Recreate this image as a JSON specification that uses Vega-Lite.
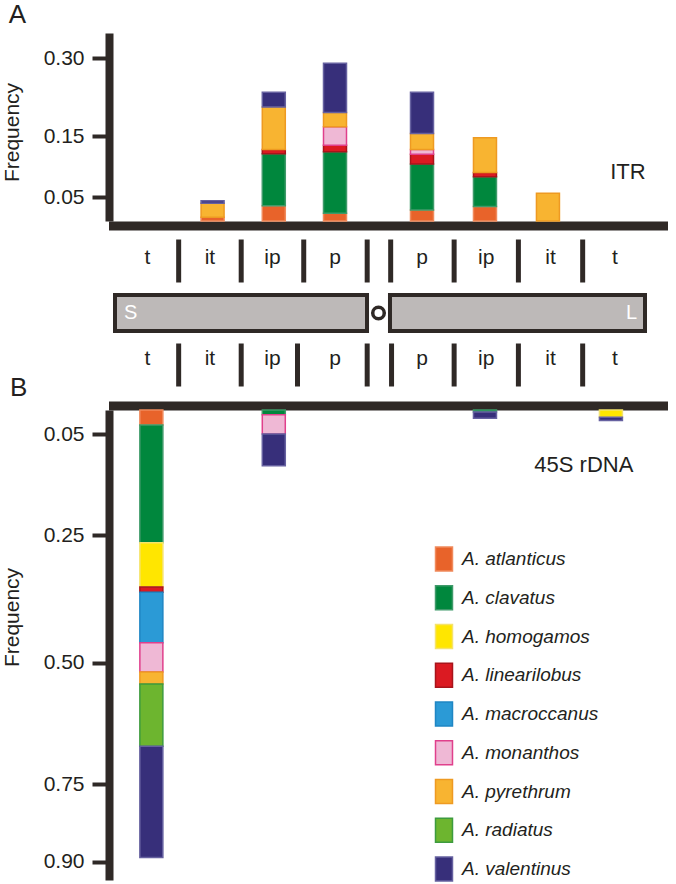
{
  "$schema": "https://vega.github.io/schema/vega-lite/v6.json",
  "width": 676,
  "height": 884,
  "padding": 0,
  "autosize": {"type": "none"},
  "config": {"view": {"stroke": null}, "font": "Liberation Sans"},
  "datasets": {
    "itr": [
      {"locus": 2, "species": "A. atlanticus", "frequency": 0.008},
      {"locus": 2, "species": "A. pyrethrum", "frequency": 0.029},
      {"locus": 2, "species": "A. valentinus", "frequency": 0.005},
      {"locus": 3, "species": "A. atlanticus", "frequency": 0.032},
      {"locus": 3, "species": "A. clavatus", "frequency": 0.089},
      {"locus": 3, "species": "A. linearilobus", "frequency": 0.007},
      {"locus": 3, "species": "A. pyrethrum", "frequency": 0.078},
      {"locus": 3, "species": "A. valentinus", "frequency": 0.028},
      {"locus": 4, "species": "A. atlanticus", "frequency": 0.016},
      {"locus": 4, "species": "A. clavatus", "frequency": 0.108},
      {"locus": 4, "species": "A. linearilobus", "frequency": 0.011},
      {"locus": 4, "species": "A. monanthos", "frequency": 0.033},
      {"locus": 4, "species": "A. pyrethrum", "frequency": 0.027},
      {"locus": 4, "species": "A. valentinus", "frequency": 0.095},
      {"locus": 5, "species": "A. atlanticus", "frequency": 0.023},
      {"locus": 5, "species": "A. clavatus", "frequency": 0.081},
      {"locus": 5, "species": "A. linearilobus", "frequency": 0.016},
      {"locus": 5, "species": "A. monanthos", "frequency": 0.008},
      {"locus": 5, "species": "A. pyrethrum", "frequency": 0.027},
      {"locus": 5, "species": "A. valentinus", "frequency": 0.079},
      {"locus": 6, "species": "A. atlanticus", "frequency": 0.030},
      {"locus": 6, "species": "A. clavatus", "frequency": 0.053},
      {"locus": 6, "species": "A. linearilobus", "frequency": 0.007},
      {"locus": 6, "species": "A. pyrethrum", "frequency": 0.057},
      {"locus": 7, "species": "A. pyrethrum", "frequency": 0.056}
    ],
    "rdna": [
      {"locus": 1, "species": "A. atlanticus", "frequency": 0.031},
      {"locus": 1, "species": "A. clavatus", "frequency": 0.234},
      {"locus": 1, "species": "A. homogamos", "frequency": 0.087},
      {"locus": 1, "species": "A. linearilobus", "frequency": 0.010},
      {"locus": 1, "species": "A. macroccanus", "frequency": 0.099},
      {"locus": 1, "species": "A. monanthos", "frequency": 0.058},
      {"locus": 1, "species": "A. pyrethrum", "frequency": 0.025},
      {"locus": 1, "species": "A. radiatus", "frequency": 0.128},
      {"locus": 1, "species": "A. valentinus", "frequency": 0.220},
      {"locus": 3, "species": "A. clavatus", "frequency": 0.010},
      {"locus": 3, "species": "A. monanthos", "frequency": 0.040},
      {"locus": 3, "species": "A. valentinus", "frequency": 0.063},
      {"locus": 6, "species": "A. clavatus", "frequency": 0.004},
      {"locus": 6, "species": "A. valentinus", "frequency": 0.013},
      {"locus": 8, "species": "A. homogamos", "frequency": 0.015},
      {"locus": 8, "species": "A. valentinus", "frequency": 0.007}
    ],
    "loci": [
      {"locus": 1, "region": "t"}, {"locus": 2, "region": "it"},
      {"locus": 3, "region": "ip"}, {"locus": 4, "region": "p"},
      {"locus": 5, "region": "p"}, {"locus": 6, "region": "ip"},
      {"locus": 7, "region": "it"}, {"locus": 8, "region": "t"}
    ],
    "separators": [
      {"row": "upper", "boundary": 1.5}, {"row": "upper", "boundary": 2.5},
      {"row": "upper", "boundary": 3.5}, {"row": "upper", "boundary": 4.37},
      {"row": "upper", "boundary": 4.64}, {"row": "upper", "boundary": 5.5},
      {"row": "upper", "boundary": 6.5}, {"row": "upper", "boundary": 7.5},
      {"row": "lower", "boundary": 1.5}, {"row": "lower", "boundary": 2.5},
      {"row": "lower", "boundary": 3.4}, {"row": "lower", "boundary": 4.37},
      {"row": "lower", "boundary": 4.65}, {"row": "lower", "boundary": 5.5},
      {"row": "lower", "boundary": 6.5}, {"row": "lower", "boundary": 7.5}
    ],
    "arms": [
      {"arm": "S", "start": 0.482, "end": 4.368},
      {"arm": "L", "start": 4.632, "end": 8.47}
    ]
  },
  "layer": [
    {
      "layer": [
        {
          "data": {"name": "itr"},
          "mark": {"type": "bar", "orient": "vertical", "size": 23, "strokeWidth": 1.5},
          "encoding": {
            "x": {"field": "locus", "type": "quantitative", "title": null,
              "scale": {"domain": [0.45, 4, 5, 8.75], "range": [113, 335, 422, 663], "nice": false, "zero": false},
              "axis": {"orient": "bottom", "offset": -658.5, "domainWidth": 9, "domainColor": "#2f2926", "domainCap": "square", "ticks": false, "labels": false, "grid": false, "title": null}},
            "y": {"field": "frequency", "type": "quantitative", "stack": "zero", "title": "Frequency",
              "scale": {"domain": [0, 0.05, 0.15, 0.3, 0.348], "range": [221, 197, 136, 58, 33], "nice": false, "zero": false},
              "axis": {"orient": "left", "offset": -109, "values": [0.05, 0.15, 0.3], "format": ".2f", "grid": false,
                "domainWidth": 8, "domainColor": "#2f2926", "tickSize": 17, "tickWidth": 4, "tickColor": "#2f2926",
                "labelFont": "Liberation Sans", "labelFontSize": 21, "labelColor": "#231f20", "labelPadding": 8,
                "title": "Frequency", "titleFont": "Liberation Sans", "titleFontSize": 21, "titleFontWeight": "normal", "titleColor": "#231f20",
                "titleX": -97, "titleY": 132, "titleAngle": -90, "titleBaseline": "middle", "titleAlign": "center"}},
            "fill": {"field": "species", "type": "nominal",
              "scale": {"domain": ["A. atlanticus", "A. clavatus", "A. homogamos", "A. linearilobus", "A. macroccanus", "A. monanthos", "A. pyrethrum", "A. radiatus", "A. valentinus"],
                "range": ["#e8632a", "#00873d", "#ffe600", "#db1a22", "#2b9ad6", "#efb8d5", "#f8b431", "#6db52f", "#372f7a"]},
              "legend": {"orient": "none", "legendX": 431, "legendY": 546, "title": null, "direction": "vertical",
                "symbolType": "M-0.708,-1H0.708V1H-0.708Z", "symbolSize": 576, "symbolStrokeWidth": 1.5, "symbolOpacity": 1,
                "labelFont": "Liberation Sans", "labelFontSize": 19, "labelFontStyle": "italic", "labelColor": "#231f20",
                "labelOffset": 5, "rowPadding": 8.75, "padding": 0, "labelLimit": 300}},
            "stroke": {"field": "species", "type": "nominal",
              "scale": {"domain": ["A. atlanticus", "A. clavatus", "A. homogamos", "A. linearilobus", "A. macroccanus", "A. monanthos", "A. pyrethrum", "A. radiatus", "A. valentinus"],
                "range": ["#f08a5c", "#3f9a6a", "#f5e36b", "#a8141b", "#1f86c4", "#e0408c", "#ee9a22", "#3d9b3e", "#6661a0"]},
              "legend": {"orient": "none", "legendX": 431, "legendY": 546, "title": null, "direction": "vertical",
                "symbolType": "M-0.708,-1H0.708V1H-0.708Z", "symbolSize": 576, "symbolStrokeWidth": 1.5, "symbolOpacity": 1,
                "labelFont": "Liberation Sans", "labelFontSize": 19, "labelFontStyle": "italic", "labelColor": "#231f20",
                "labelOffset": 5, "rowPadding": 8.75, "padding": 0, "labelLimit": 300}},
            "order": {"field": "species", "sort": "ascending"}
          }
        },
        {
          "data": {"values": [{"label": "ITR", "locus": 8.27, "frequency": 0.091}]},
          "mark": {"type": "text", "fontSize": 22, "color": "#231f20", "baseline": "middle", "align": "center"},
          "encoding": {
            "x": {"field": "locus", "type": "quantitative", "title": null},
            "y": {"field": "frequency", "type": "quantitative", "title": "Frequency"},
            "text": {"field": "label"}
          }
        },
        {
          "data": {"values": [{"label": "A", "locus": -1.33, "frequency": 0.382}]},
          "mark": {"type": "text", "fontSize": 26, "color": "#231f20", "baseline": "middle", "align": "left"},
          "encoding": {
            "x": {"field": "locus", "type": "quantitative", "title": null},
            "y": {"field": "frequency", "type": "quantitative", "title": "Frequency"},
            "text": {"field": "label"}
          }
        }
      ]
    },
    {
      "layer": [
        {
          "data": {"name": "separators"},
          "mark": {"type": "tick", "orient": "vertical", "size": 43, "thickness": 5, "color": "#2f2926", "opacity": 1},
          "encoding": {
            "x": {"field": "boundary", "type": "quantitative", "axis": null,
              "scale": {"domain": [0.45, 4, 5, 8.75], "range": [113, 335, 422, 663], "nice": false, "zero": false}},
            "y": {"field": "row", "type": "nominal", "axis": null,
              "scale": {"type": "point", "domain": ["upper", "chromosome", "lower"], "range": [261, 365], "padding": 0}}
          }
        },
        {
          "data": {"name": "loci"},
          "mark": {"type": "text", "fontSize": 21, "color": "#231f20", "baseline": "middle", "dy": -3},
          "encoding": {
            "x": {"field": "locus", "type": "quantitative", "axis": null},
            "y": {"datum": "upper", "type": "nominal", "axis": null},
            "text": {"field": "region"}
          }
        },
        {
          "data": {"name": "loci"},
          "mark": {"type": "text", "fontSize": 21, "color": "#231f20", "baseline": "middle", "dy": -6},
          "encoding": {
            "x": {"field": "locus", "type": "quantitative", "axis": null},
            "y": {"datum": "lower", "type": "nominal", "axis": null},
            "text": {"field": "region"}
          }
        },
        {
          "data": {"name": "arms"},
          "mark": {"type": "bar", "orient": "horizontal", "size": 36, "fill": "#bdb9b8", "stroke": "#2f2926", "strokeWidth": 4},
          "encoding": {
            "x": {"field": "start", "type": "quantitative", "axis": null},
            "x2": {"field": "end"},
            "y": {"datum": "chromosome", "type": "nominal", "axis": null}
          }
        },
        {
          "data": {"name": "arms"},
          "transform": [{"filter": "datum.arm === 'S'"}],
          "mark": {"type": "text", "fontSize": 20, "color": "white", "baseline": "middle", "align": "left", "dx": 9},
          "encoding": {
            "x": {"field": "start", "type": "quantitative", "axis": null},
            "y": {"datum": "chromosome", "type": "nominal", "axis": null},
            "text": {"field": "arm"}
          }
        },
        {
          "data": {"name": "arms"},
          "transform": [{"filter": "datum.arm === 'L'"}],
          "mark": {"type": "text", "fontSize": 20, "color": "white", "baseline": "middle", "align": "right", "dx": -8},
          "encoding": {
            "x": {"field": "end", "type": "quantitative", "axis": null},
            "y": {"datum": "chromosome", "type": "nominal", "axis": null},
            "text": {"field": "arm"}
          }
        },
        {
          "data": {"values": [{"position": 4.5}]},
          "mark": {"type": "point", "shape": "circle", "size": 133, "filled": true, "fill": "white", "stroke": "#2f2926", "strokeWidth": 3.5, "opacity": 1},
          "encoding": {
            "x": {"field": "position", "type": "quantitative", "axis": null},
            "y": {"datum": "chromosome", "type": "nominal", "axis": null}
          }
        }
      ]
    },
    {
      "layer": [
        {
          "data": {"name": "rdna"},
          "mark": {"type": "bar", "orient": "vertical", "size": 23, "strokeWidth": 1.5},
          "encoding": {
            "x": {"field": "locus", "type": "quantitative", "title": null,
              "scale": {"domain": [0.45, 4, 5, 8.75], "range": [113, 335, 422, 663], "nice": false, "zero": false},
              "axis": {"orient": "top", "offset": -405.5, "domainWidth": 9, "domainColor": "#2f2926", "domainCap": "square", "ticks": false, "labels": false, "grid": false, "title": null}},
            "y": {"field": "frequency", "type": "quantitative", "stack": "zero", "title": "Frequency",
              "scale": {"domain": [0, 0.05, 0.25, 0.5, 0.75, 0.9, 0.935], "range": [410, 434, 535, 662.7, 784, 861.7, 880], "nice": false, "zero": false},
              "axis": {"orient": "left", "offset": -109, "values": [0.05, 0.25, 0.5, 0.75, 0.9], "format": ".2f", "grid": false,
                "domainWidth": 8, "domainColor": "#2f2926", "tickSize": 17, "tickWidth": 4, "tickColor": "#2f2926",
                "labelFont": "Liberation Sans", "labelFontSize": 21, "labelColor": "#231f20", "labelPadding": 8,
                "title": "Frequency", "titleFont": "Liberation Sans", "titleFontSize": 21, "titleFontWeight": "normal", "titleColor": "#231f20",
                "titleX": -97, "titleY": 617, "titleAngle": -90, "titleBaseline": "middle", "titleAlign": "center"}},
            "fill": {"field": "species", "type": "nominal",
              "scale": {"domain": ["A. atlanticus", "A. clavatus", "A. homogamos", "A. linearilobus", "A. macroccanus", "A. monanthos", "A. pyrethrum", "A. radiatus", "A. valentinus"],
                "range": ["#e8632a", "#00873d", "#ffe600", "#db1a22", "#2b9ad6", "#efb8d5", "#f8b431", "#6db52f", "#372f7a"]},
              "legend": {"orient": "none", "legendX": 431, "legendY": 546, "title": null, "direction": "vertical",
                "symbolType": "M-0.708,-1H0.708V1H-0.708Z", "symbolSize": 576, "symbolStrokeWidth": 1.5, "symbolOpacity": 1,
                "labelFont": "Liberation Sans", "labelFontSize": 19, "labelFontStyle": "italic", "labelColor": "#231f20",
                "labelOffset": 5, "rowPadding": 8.75, "padding": 0, "labelLimit": 300}},
            "stroke": {"field": "species", "type": "nominal",
              "scale": {"domain": ["A. atlanticus", "A. clavatus", "A. homogamos", "A. linearilobus", "A. macroccanus", "A. monanthos", "A. pyrethrum", "A. radiatus", "A. valentinus"],
                "range": ["#f08a5c", "#3f9a6a", "#f5e36b", "#a8141b", "#1f86c4", "#e0408c", "#ee9a22", "#3d9b3e", "#6661a0"]},
              "legend": {"orient": "none", "legendX": 431, "legendY": 546, "title": null, "direction": "vertical",
                "symbolType": "M-0.708,-1H0.708V1H-0.708Z", "symbolSize": 576, "symbolStrokeWidth": 1.5, "symbolOpacity": 1,
                "labelFont": "Liberation Sans", "labelFontSize": 19, "labelFontStyle": "italic", "labelColor": "#231f20",
                "labelOffset": 5, "rowPadding": 8.75, "padding": 0, "labelLimit": 300}},
            "order": {"field": "species", "sort": "ascending"}
          }
        },
        {
          "data": {"values": [{"label": "45S rDNA", "locus": 7.57, "frequency": 0.111}]},
          "mark": {"type": "text", "fontSize": 22, "color": "#231f20", "baseline": "middle", "align": "center"},
          "encoding": {
            "x": {"field": "locus", "type": "quantitative", "title": null},
            "y": {"field": "frequency", "type": "quantitative", "title": "Frequency"},
            "text": {"field": "label"}
          }
        },
        {
          "data": {"values": [{"label": "B", "locus": -1.31, "frequency": -0.045}]},
          "mark": {"type": "text", "fontSize": 26, "color": "#231f20", "baseline": "middle", "align": "left"},
          "encoding": {
            "x": {"field": "locus", "type": "quantitative", "title": null},
            "y": {"field": "frequency", "type": "quantitative", "title": "Frequency"},
            "text": {"field": "label"}
          }
        }
      ]
    }
  ],
  "resolve": {"scale": {"x": "independent", "y": "independent"}}
}
